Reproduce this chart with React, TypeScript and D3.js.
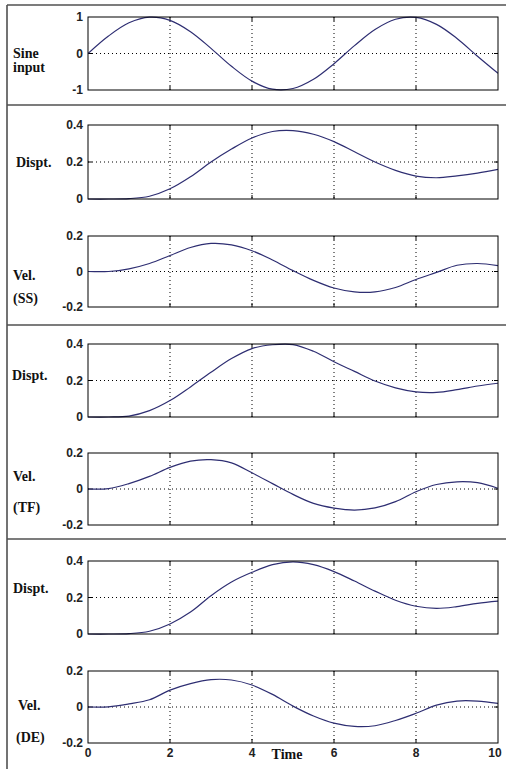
import React from "react";
import * as d3 from "d3";

const timeSteps = [0, 0.5, 1, 1.5, 2, 2.5, 3, 3.5, 4, 4.5, 5, 5.5, 6, 6.5, 7, 7.5, 8, 8.5, 9, 9.5, 10];
const sineInput = [0, 0.479, 0.841, 0.997, 0.909, 0.598, 0.141, -0.351, -0.757, -0.978, -0.959, -0.706, -0.279, 0.215, 0.657, 0.938, 0.989, 0.798, 0.412, -0.075, -0.544];
const disptSS = [0, 0, 0.002, 0.015, 0.055, 0.12, 0.2, 0.27, 0.33, 0.365, 0.37, 0.35, 0.31, 0.255, 0.2, 0.155, 0.124, 0.115, 0.125, 0.14, 0.16];
const velSS = [0, 0, 0.015, 0.045, 0.09, 0.135, 0.158, 0.15, 0.117, 0.065, 0.005, -0.05, -0.093, -0.115, -0.115, -0.09, -0.045, -0.005, 0.035, 0.045, 0.033];
const disptTF = [0, 0, 0.005, 0.035, 0.09, 0.165, 0.245, 0.32, 0.375, 0.396, 0.397, 0.36, 0.303, 0.25, 0.197, 0.16, 0.138, 0.135, 0.15, 0.17, 0.185];
const velTF = [0, 0.002, 0.03, 0.07, 0.12, 0.155, 0.163, 0.145, 0.09, 0.03, -0.03, -0.08, -0.106, -0.117, -0.105, -0.07, -0.015, 0.025, 0.04, 0.035, 0.004];
const disptDE = [0, 0, 0.002, 0.015, 0.055, 0.12, 0.21, 0.285, 0.338, 0.38, 0.395, 0.38, 0.342, 0.29, 0.235, 0.185, 0.152, 0.14, 0.15, 0.168, 0.18];
const velDE = [0, 0.001, 0.017, 0.04, 0.094, 0.13, 0.152, 0.15, 0.122, 0.07, 0.005, -0.05, -0.09, -0.108, -0.104, -0.075, -0.035, 0.01, 0.033, 0.033, 0.02];

const xTicks = [0, 2, 4, 6, 8, 10];
const sineTicks = [-1, 0, 1];
const disptTicks = [0, 0.2, 0.4];
const velTicks = [-0.2, 0, 0.2];
const sineTickLabels = ["-1", "0", "1"];
const disptTickLabels = ["0", "0.2", "0.4"];
const velTickLabels = ["-0.2", "0", "0.2"];
const xLabel = "Time";

const W = 506;
const H = 769;
const X0 = 88;
const X1 = 498;
const LINE = "#2e2e72";
const SERIF = "'Liberation Serif', 'DejaVu Serif', serif";
const SANS = "'Liberation Sans', Arial, sans-serif";

type Panel = {
  top: number;
  bottom: number;
  values: number[];
  ticks: number[];
  tickLabels: string[];
  domain: [number, number];
  labels: { text: string; x: number; y: number }[];
};

const panels: Panel[] = [
  { top: 17, bottom: 90, values: sineInput, ticks: sineTicks, tickLabels: sineTickLabels, domain: [-1, 1],
    labels: [{ text: "Sine", x: 13, y: 58 }, { text: "input", x: 13, y: 72 }] },
  { top: 125, bottom: 199, values: disptSS, ticks: disptTicks, tickLabels: disptTickLabels, domain: [0, 0.4],
    labels: [{ text: "Dispt.", x: 16, y: 167 }] },
  { top: 236, bottom: 307, values: velSS, ticks: velTicks, tickLabels: velTickLabels, domain: [-0.2, 0.2],
    labels: [{ text: "Vel.", x: 13, y: 280 }, { text: "(SS)", x: 13, y: 303 }] },
  { top: 344, bottom: 417, values: disptTF, ticks: disptTicks, tickLabels: disptTickLabels, domain: [0, 0.4],
    labels: [{ text: "Dispt.", x: 12, y: 380 }] },
  { top: 453, bottom: 525, values: velTF, ticks: velTicks, tickLabels: velTickLabels, domain: [-0.2, 0.2],
    labels: [{ text: "Vel.", x: 13, y: 481 }, { text: "(TF)", x: 13, y: 512 }] },
  { top: 561, bottom: 634, values: disptDE, ticks: disptTicks, tickLabels: disptTickLabels, domain: [0, 0.4],
    labels: [{ text: "Dispt.", x: 13, y: 593 }] },
  { top: 671, bottom: 743, values: velDE, ticks: velTicks, tickLabels: velTickLabels, domain: [-0.2, 0.2],
    labels: [{ text: "Vel.", x: 18, y: 710 }, { text: "(DE)", x: 16, y: 742 }] },
];

const separators = [5, 105, 325, 539];

export default function App() {
  const x = d3.scaleLinear().domain([0, 10]).range([X0, X1]);
  return (
    <svg width={W} height={H} style={{ position: "absolute", left: 0, top: 0, background: "#fff" }}>
      <rect x={0} y={0} width={W} height={H} fill="#fff" />
      {separators.map((s, i) => (
        <line key={i} x1={7} x2={W} y1={s} y2={s} stroke="#505050" strokeWidth={1.6} />
      ))}
      <line x1={7} x2={7} y1={5} y2={H} stroke="#505050" strokeWidth={1.6} />
      {panels.map((p, pi) => {
        const y = d3.scaleLinear().domain(p.domain).range([p.bottom, p.top]);
        const mid = p.ticks[1];
        const line = d3
          .line<number>()
          .x((_, i) => x(timeSteps[i]))
          .y((v) => y(v))
          .curve(d3.curveCatmullRom.alpha(0.5));
        const clipId = `clip${pi}`;
        return (
          <g key={pi}>
            <defs>
              <clipPath id={clipId}>
                <rect x={X0} y={p.top - 1} width={X1 - X0} height={p.bottom - p.top + 2} />
              </clipPath>
            </defs>
            {xTicks.slice(1, -1).map((t) => (
              <line key={t} x1={x(t)} x2={x(t)} y1={p.top} y2={p.bottom} stroke="#000" strokeWidth={1} strokeDasharray="1,3" />
            ))}
            <line x1={X0} x2={X1} y1={y(mid)} y2={y(mid)} stroke="#000" strokeWidth={1} strokeDasharray="1,3" />
            {xTicks.slice(1, -1).map((t) => (
              <g key={"t" + t}>
                <line x1={x(t)} x2={x(t)} y1={p.bottom} y2={p.bottom - 4} stroke="#000" />
                <line x1={x(t)} x2={x(t)} y1={p.top} y2={p.top + 4} stroke="#000" />
              </g>
            ))}
            <line x1={X0} x2={X0 + 4} y1={y(mid)} y2={y(mid)} stroke="#000" />
            <line x1={X1} x2={X1 - 4} y1={y(mid)} y2={y(mid)} stroke="#000" />
            <path d={line(p.values) || ""} fill="none" stroke={LINE} strokeWidth={1.2} clipPath={`url(#${clipId})`} />
            <rect x={X0} y={p.top} width={X1 - X0} height={p.bottom - p.top} fill="none" stroke="#000" strokeWidth={1} />
            {p.ticks.map((t, i) => (
              <text key={"l" + t} x={83} y={y(t)} dy="0.36em" textAnchor="end" fontFamily={SANS} fontSize={12} fontWeight="bold" fill="#222">
                {p.tickLabels[i]}
              </text>
            ))}
            {p.labels.map((l, i) => (
              <text key={"n" + i} x={l.x} y={l.y} fontFamily={SERIF} fontSize={14} fontWeight="bold" fill="#111">
                {l.text}
              </text>
            ))}
          </g>
        );
      })}
      {xTicks.map((t) => (
        <text key={"x" + t} x={x(t) - (t === 10 ? 3 : 0)} y={757} textAnchor="middle" fontFamily={SANS} fontSize={12} fontWeight="bold" fill="#222">
          {t}
        </text>
      ))}
      <text x={287} y={759} textAnchor="middle" fontFamily={SERIF} fontSize={14} fontWeight="bold" fill="#111">
        {xLabel}
      </text>
    </svg>
  );
}
